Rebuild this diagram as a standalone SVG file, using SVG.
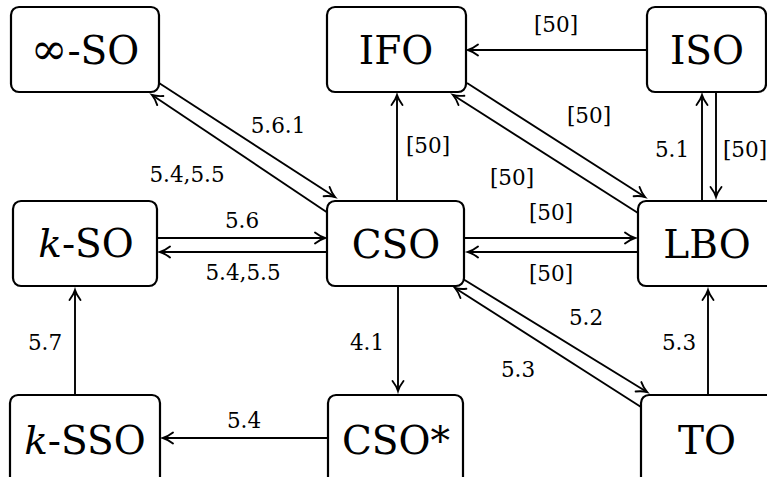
<svg xmlns="http://www.w3.org/2000/svg" width="767" height="477" viewBox="0 0 767 477">
<style>
.box{fill:#fff;stroke:#000;stroke-width:2.2}
.nt{font-size:39px;text-anchor:middle;fill:#000}
.lb{font-size:21.5px;text-anchor:middle;fill:#000}
.e{stroke:#000;stroke-width:1.9;fill:none;marker-end:url(#to)}
</style>
<defs>
<marker id="to" markerUnits="userSpaceOnUse" orient="auto" refX="0" refY="0" markerWidth="12" markerHeight="12" overflow="visible">
<path d="M -10 -5.5 C -6.5 -2.8 -2 -0.6 0 0 C -2 0.6 -6.5 2.8 -10 5.5" fill="none" stroke="#000" stroke-width="1.9" stroke-linecap="round"/>
</marker>
</defs>
<rect width="767" height="477" fill="#fff"/>
<g id="edges">
<line class="e" x1="647" y1="50" x2="468" y2="50"/>
<line class="e" x1="397" y1="201" x2="397" y2="95"/>
<line class="e" x1="467" y1="83" x2="645" y2="197"/>
<line class="e" x1="638" y1="213" x2="453" y2="95"/>
<line class="e" x1="702" y1="201" x2="702" y2="95"/>
<line class="e" x1="716" y1="92" x2="716" y2="197"/>
<line class="e" x1="159" y1="83" x2="335" y2="197"/>
<line class="e" x1="328" y1="213" x2="152" y2="95"/>
<line class="e" x1="157" y1="238" x2="325" y2="238"/>
<line class="e" x1="327" y1="252" x2="160" y2="252"/>
<line class="e" x1="464" y1="238" x2="635" y2="238"/>
<line class="e" x1="638" y1="252" x2="468" y2="252"/>
<line class="e" x1="398" y1="286" x2="398" y2="391"/>
<line class="e" x1="328" y1="438" x2="163" y2="438"/>
<line class="e" x1="75" y1="395" x2="75" y2="290"/>
<line class="e" x1="463" y1="279" x2="647" y2="392"/>
<line class="e" x1="641" y1="407" x2="455" y2="288"/>
<line class="e" x1="708" y1="395" x2="708" y2="290"/>
<g font-family="'DejaVu Serif', serif">
<text class="lb" x="556" y="32">[50]</text>
<text class="lb" x="428" y="153">[50]</text>
<text class="lb" x="589" y="123">[50]</text>
<text class="lb" x="512" y="185">[50]</text>
<text class="lb" x="672" y="157">5.1</text>
<text class="lb" x="745" y="157">[50]</text>
<text class="lb" x="278" y="133">5.6.1</text>
<text class="lb" x="187" y="182">5.4,5.5</text>
<text class="lb" x="242" y="228">5.6</text>
<text class="lb" x="243" y="280">5.4,5.5</text>
<text class="lb" x="551" y="220">[50]</text>
<text class="lb" x="551" y="281">[50]</text>
<text class="lb" x="367" y="350">4.1</text>
<text class="lb" x="45" y="350">5.7</text>
<text class="lb" x="244" y="428">5.4</text>
<text class="lb" x="586" y="325">5.2</text>
<text class="lb" x="518" y="377">5.3</text>
<text class="lb" x="679" y="350">5.3</text>
</g>
</g>
<g font-family="'DejaVu Serif', serif">
<g id="inf-SO"><rect class="box" x="11" y="7" width="148" height="85" rx="8"/><text class="nt" x="85" y="64"><tspan font-size="44">∞</tspan>-SO</text></g>
<g id="IFO"><rect class="box" x="327" y="7" width="139" height="85" rx="8"/><text class="nt" x="396" y="64">IFO</text></g>
<g id="ISO"><rect class="box" x="647" y="7" width="119" height="85" rx="8"/><text class="nt" x="707" y="64">ISO</text></g>
<g id="k-SO"><rect class="box" x="13" y="201" width="144" height="85" rx="8"/><text class="nt" x="86" y="257"><tspan font-style="italic">k</tspan>-SO</text></g>
<g id="CSO"><rect class="box" x="327" y="201" width="137" height="85" rx="8"/><text class="nt" x="396" y="258">CSO</text></g>
<g id="LBO"><rect class="box" x="638" y="201" width="140" height="85" rx="8"/><text class="nt" x="707" y="258">LBO</text></g>
<g id="k-SSO"><rect class="box" x="10" y="395" width="150" height="90" rx="8"/><text class="nt" x="85" y="454"><tspan font-style="italic">k</tspan>-SSO</text></g>
<g id="CSO-star"><rect class="box" x="328" y="395" width="135" height="90" rx="8"/><text class="nt" x="396" y="454">CSO*</text></g>
<g id="TO"><rect class="box" x="641" y="395" width="140" height="90" rx="8"/><text class="nt" x="707" y="454">TO</text></g>
</g>
</svg>
